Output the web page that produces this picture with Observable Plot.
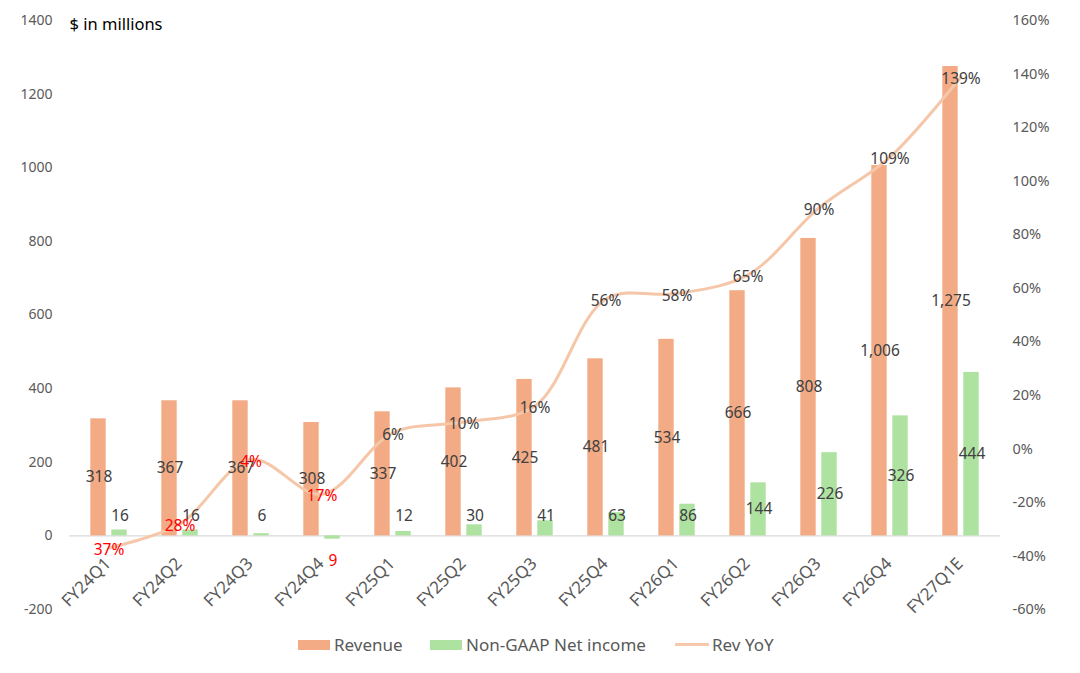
<!DOCTYPE html>
<html>
<head>
<meta charset="utf-8">
<script src="https://cdn.jsdelivr.net/npm/d3@7"></script>
<script src="https://cdn.jsdelivr.net/npm/@observablehq/plot@0.6"></script>
<style>
  html, body { margin: 0; padding: 0; background: #fff; }
  body { width: 1080px; height: 673px; position: relative; overflow: hidden; font-family: "Noto Sans", "Open Sans", sans-serif; }
  #legend { position: absolute; left: 0; top: 625px; width: 1080px; height: 48px; }
  .item { position: absolute; top: 8px; display: flex; align-items: center; font-size: 17px; color: #595959; }
  .sw { display: inline-block; width: 32px; height: 10px; margin-right: 4px; }
  .ln { display: inline-block; width: 34px; height: 3px; margin-right: 3px; }
</style>
</head>
<body>
<div id="chart"></div>
<div id="legend">
  <div class="item" style="left:298px"><span class="sw" style="background:#F2AB85"></span>Revenue</div>
  <div class="item" style="left:430px"><span class="sw" style="background:#AEE2A0"></span>Non-GAAP Net income</div>
  <div class="item" style="left:675px"><span class="ln" style="background:#F6C8AC"></span>Rev YoY</div>
</div>
<script>
const categories = ["FY24Q1","FY24Q2","FY24Q3","FY24Q4","FY25Q1","FY25Q2","FY25Q3","FY25Q4","FY26Q1","FY26Q2","FY26Q3","FY26Q4","FY27Q1E"];
const revenue = [318,367,367,308,337,402,425,481,534,666,808,1006,1275];
const netIncome = [16,16,6,-9,12,30,41,63,86,144,226,326,444];
const revYoY = [-37,-28,-4,-17,6,10,16,56,58,65,90,109,139];
const leftTicks = [-200,0,200,400,600,800,1000,1200,1400];
const rightTicks = [-60,-40,-20,0,20,40,60,80,100,120,140,160];

const leftDomain = [-200, 1400];
const rightDomain = [-60, 160];
const toLeft = p => leftDomain[0] + (p - rightDomain[0]) * (leftDomain[1] - leftDomain[0]) / (rightDomain[1] - rightDomain[0]);
const fromLeft = v => rightDomain[0] + (v - leftDomain[0]) * (rightDomain[1] - rightDomain[0]) / (leftDomain[1] - leftDomain[0]);

const idx = categories.map((_, i) => i);
const fmt = d3.format(",");
const labelColor = "#404040";
const negColor = "#FF0000";
const font = "Noto Sans, Open Sans, sans-serif";

const chart = Plot.plot({
  width: 1080,
  height: 625,
  marginLeft: 69,
  marginRight: 80,
  marginTop: 20,
  marginBottom: 16,
  style: { fontFamily: font, background: "white", overflow: "visible" },
  x: { domain: categories, type: "band", padding: 0, axis: null },
  y: { domain: leftDomain, axis: null },
  marks: [
    Plot.axisY(leftTicks, { anchor: "left", tickSize: 0, tickPadding: 17, fontSize: 14, color: "#595959", label: null, tickFormat: d => String(d) }),
    Plot.axisY(rightTicks.map(toLeft), { anchor: "right", tickSize: 0, tickPadding: 12, fontSize: 14.5, color: "#595959", label: null, tickFormat: d => Math.round(fromLeft(d)) + "%" }),
    Plot.ruleY([0], { stroke: "#d9d9d9", strokeWidth: 1.2 }),
    Plot.barY(idx, { x: i => categories[i], y: i => revenue[i], fill: "#F2AB85", insetLeft: 17.3, insetRight: 38.3 }),
    Plot.barY(idx, { x: i => categories[i], y: i => netIncome[i], fill: "#AEE2A0", insetLeft: 38.3, insetRight: 17.3 }),
    Plot.line(idx, { x: i => categories[i], y: i => toLeft(revYoY[i]), stroke: "#F6C6A8", strokeWidth: 3, curve: "catmull-rom" }),
    Plot.text(idx, { x: i => categories[i], y: i => revenue[i] / 2, text: i => fmt(revenue[i]), dx: -10, fontSize: 15.5, fill: labelColor }),
    Plot.text(idx, { x: i => categories[i], y: i => netIncome[i] >= 0 ? Math.max(netIncome[i] / 2, 55) : netIncome[i] - 60, text: i => fmt(Math.abs(netIncome[i])), dx: 11, fontSize: 15.5, fill: i => netIncome[i] < 0 ? negColor : labelColor }),
    Plot.text(idx, { x: i => categories[i], y: i => toLeft(revYoY[i]), text: i => Math.abs(revYoY[i]) + "%", dy: 2, fontSize: 15.5, fill: i => revYoY[i] < 0 ? negColor : labelColor }),
    Plot.text(categories, { x: d => d, y: d => 0, text: d => d, rotate: -45, textAnchor: "end", lineAnchor: "middle", dx: -1, dy: 25, fontSize: 17, fill: "#595959" }),
    Plot.text(["$ in millions"], { frameAnchor: "top-left", textAnchor: "start", lineAnchor: "middle", dx: 0, dy: 4, fontSize: 16.5, fill: "#000" })
  ]
});
document.getElementById("chart").appendChild(chart);
</script>
</body>
</html>
